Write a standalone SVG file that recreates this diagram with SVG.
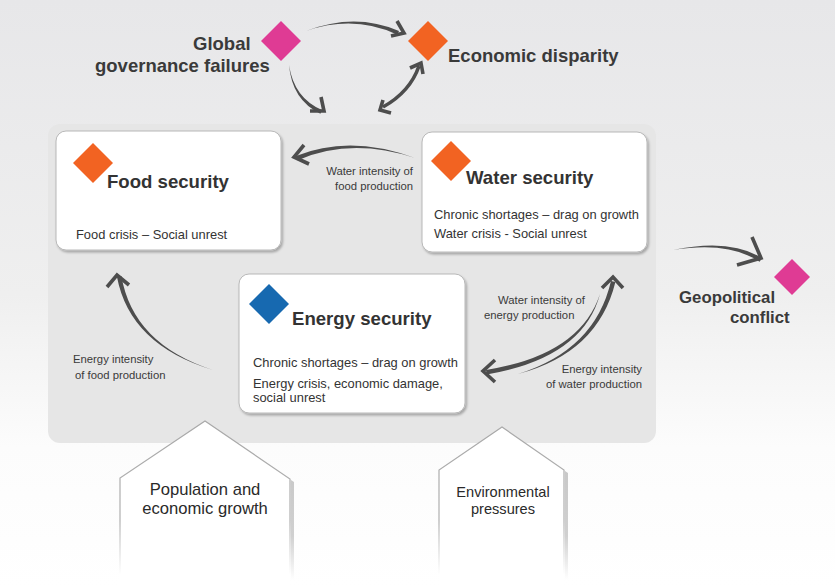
<svg xmlns="http://www.w3.org/2000/svg" width="835" height="588" viewBox="0 0 835 588">
<defs>
<linearGradient id="bg" x1="0" y1="0" x2="0" y2="588" gradientUnits="userSpaceOnUse">
<stop offset="0" stop-color="#e7e7e9"/>
<stop offset="0.5" stop-color="#efefef"/>
<stop offset="0.76" stop-color="#fcfcfc"/>
<stop offset="1" stop-color="#ffffff"/>
</linearGradient>
<linearGradient id="houseStroke" x1="0" y1="420" x2="0" y2="588" gradientUnits="userSpaceOnUse">
<stop offset="0" stop-color="#a8a8a8"/>
<stop offset="0.6" stop-color="#b0b0b0"/>
<stop offset="0.92" stop-color="#ffffff"/>
</linearGradient>
<linearGradient id="houseShadow" x1="0" y1="470" x2="0" y2="580" gradientUnits="userSpaceOnUse">
<stop offset="0" stop-color="#c8c8c8"/>
<stop offset="0.6" stop-color="#d0d0d0"/>
<stop offset="1" stop-color="#ffffff"/>
</linearGradient>
<filter id="sh" x="-10%" y="-10%" width="125%" height="130%">
<feDropShadow dx="1.5" dy="2" stdDeviation="1.3" flood-color="#000" flood-opacity="0.28"/>
</filter>
</defs>
<style>
.box{fill:#fff;stroke:#b8b8b8;stroke-width:1;filter:url(#sh)}
.title{font-family:"Liberation Sans",Arial,sans-serif;font-weight:bold;fill:#333;font-size:18.6px}
.big{font-family:"Liberation Sans",Arial,sans-serif;font-weight:bold;fill:#3a3a3a;font-size:18.5px}
.body{font-family:"Liberation Sans",Arial,sans-serif;fill:#333;font-size:12.9px}
.small{font-family:"Liberation Sans",Arial,sans-serif;fill:#3a3a3a;font-size:11.3px}
.house{fill:#fff;stroke:url(#houseStroke);stroke-width:1.2}
.htext{font-family:"Liberation Sans",Arial,sans-serif;fill:#2a2a2a;text-anchor:middle}
.pink{fill:#df3b94}
.orange{fill:#f26322}
.blue{fill:#1769b0}
.arr{fill:#4d4d4d}
.chev{fill:none;stroke:#4d4d4d;stroke-width:3.6;stroke-linecap:butt;stroke-linejoin:miter}
.shaft{fill:none;stroke:#4d4d4d;stroke-width:3.6}
</style>
<rect x="0" y="0" width="835" height="588" fill="url(#bg)"/>
<rect id="panel" x="48" y="124" width="608" height="319" rx="12" fill="#e6e6e6"/>

<g id="global">
<polygon class="pink" points="281,21 301,41 281,61 261,41"/>
<text class="big" x="193" y="50">Global</text>
<text class="big" x="95" y="72">governance failures</text>
</g>
<g id="economic">
<polygon class="orange" points="428,21 448,41 428,61 408,41"/>
<text class="big" x="448" y="62">Economic disparity</text>
</g>

<g id="food">
<rect class="box" x="56" y="131" width="225" height="119" rx="10"/>
<polygon class="orange" points="93,143 113,163 93,183 73,163"/>
<text class="title" x="107" y="188">Food security</text>
<text class="body" x="76" y="239">Food crisis – Social unrest</text>
</g>
<g id="water">
<rect class="box" x="422" y="132" width="225" height="120" rx="10"/>
<polygon class="orange" points="451,141 471,161 451,181 431,161"/>
<text class="title" x="466" y="184">Water security</text>
<text class="body" x="434" y="219">Chronic shortages – drag on growth</text>
<text class="body" x="434" y="238">Water crisis - Social unrest</text>
</g>
<g id="energy">
<rect class="box" x="239" y="274" width="226" height="139" rx="10"/>
<polygon class="blue" points="269,284 289,304 269,324 249,304"/>
<text class="title" x="292" y="325">Energy security</text>
<text class="body" x="253" y="367">Chronic shortages – drag on growth</text>
<text class="body" x="253" y="388">Energy crisis, economic damage,</text>
<text class="body" x="253" y="402">social unrest</text>
</g>
<g id="geopolitical">
<polygon class="pink" points="792,259 810,277 792,295 774,277"/>
<text class="big" x="679" y="303" style="font-size:16.8px">Geopolitical</text>
<text class="big" x="730" y="323" style="font-size:16.8px">conflict</text>
</g>

<g id="population">
<polygon points="291,480 294,482 294,580 291,580" fill="url(#houseShadow)"/>
<path class="house" d="M120,588 L120,478 L205,421 L290,479 L290,588"/>
<text class="htext" x="205" y="495" style="font-size:16.6px">Population and</text>
<text class="htext" x="205" y="514" style="font-size:16.6px">economic growth</text>
</g>
<g id="environmental">
<polygon points="565,471 568,473 568,580 565,580" fill="url(#houseShadow)"/>
<path class="house" d="M439,588 L439,470 L502,427 L564,470 L564,588"/>
<text class="htext" x="503" y="497" style="font-size:14.6px">Environmental</text>
<text class="htext" x="503" y="514" style="font-size:14.6px">pressures</text>
</g>

<g id="connectors">
<path class="arr" d="M306,31 Q355,12 399,31 L397.4,34.7 Q354.2,14.5 306,31 Z"/>
<polyline class="chev" points="397,21 404,33 391,36"/>
<path class="arr" d="M289,65 Q294,98 322,110 L320.4,113.7 Q292,100 289,65 Z"/>
<polyline class="chev" points="321,97 324,111 310,111"/>
<path class="shaft" d="M383,107 Q410,92 419,66"/>
<polyline class="chev" points="383,100 380,110 391,113"/>
<polyline class="chev" points="410,68 421,63 423,74"/>
<path class="arr" d="M415,158 Q350,134 296,156 L297.7,160.2 Q351,137 415,158 Z"/>
<polyline class="chev" points="304,145 294,157 309,164"/>
<path class="arr" d="M213,370 Q130,345 117,277 L121.4,276 Q133,344 213,370 Z"/>
<polyline class="chev" points="107,287 117,275 129,285"/>
<path class="arr" d="M518,374 Q595,350 611,281 L615.4,282 Q598,353 518,374 Z"/>
<polyline class="chev" points="602,288 613,277 623,288"/>
<path class="arr" d="M600,294 Q580,355 486,370 L486.7,374.5 Q583,358 600,294 Z"/>
<polyline class="chev" points="495,360 483,371 495,382"/>
<path class="arr" d="M673,250 Q730,238 762,258 L759.6,261.8 Q728.8,241 673,250 Z"/>
<polyline class="chev" points="752,237 761,258 737,265"/>
</g>

<g id="labels">
<text class="small" x="413" y="175" text-anchor="end">Water intensity of</text>
<text class="small" x="413" y="190" text-anchor="end">food production</text>
<text class="small" x="73" y="363">Energy intensity</text>
<text class="small" x="75" y="379">of food production</text>
<text class="small" x="498" y="304">Water intensity of</text>
<text class="small" x="484" y="319">energy production</text>
<text class="small" x="642" y="373" text-anchor="end">Energy intensity</text>
<text class="small" x="642" y="388" text-anchor="end">of water production</text>
</g>
</svg>
